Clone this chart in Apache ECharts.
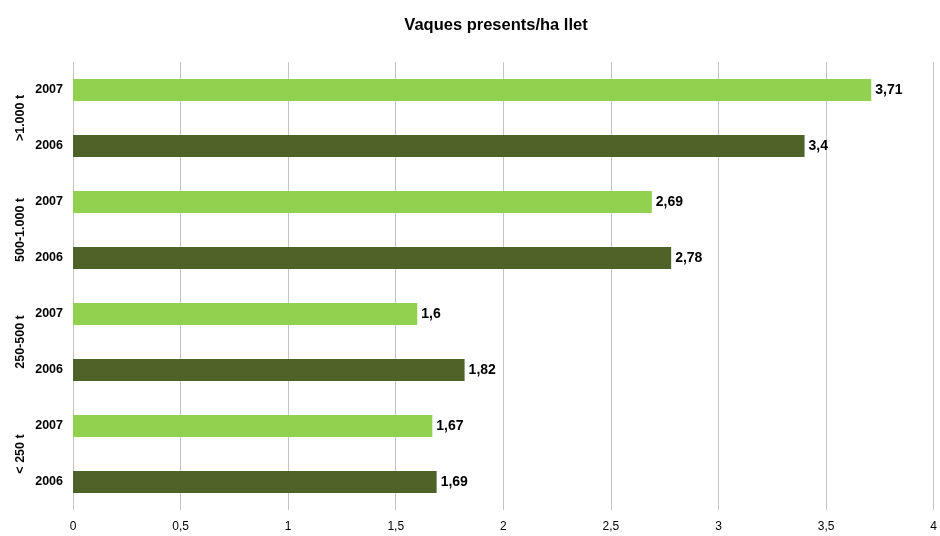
<!DOCTYPE html>
<html><head><meta charset="utf-8">
<script src="https://cdn.jsdelivr.net/npm/echarts@6/dist/echarts.min.js"></script>
<style>html,body{margin:0;padding:0;background:#fff}#c{width:940px;height:536px}</style>
</head><body><div id="c"></div>
<script>
// bottom to top
const years = ['2006','2007','2006','2007','2006','2007','2006','2007'];
const groups = ['< 250 t','250-500 t','500-1.000 t','>1.000 t'];
const values = [1.69, 1.67, 1.82, 1.6, 2.78, 2.69, 3.4, 3.71];
const xTicks = [0, 0.5, 1, 1.5, 2, 2.5, 3, 3.5, 4];
const yearColors = {'2006':'#4F6228','2007':'#92D050'};

const fmt = v => String(v).replace('.', ',');
const chart = echarts.init(document.getElementById('c'));
chart.setOption({
  animation:false,
  title:{text:'Vaques presents/ha llet',left:491,top:12,textAlign:'center',
    textStyle:{fontFamily:'Liberation Sans',fontSize:16.5,fontWeight:'bold',color:'#000'}},
  grid:{left:73,right:5,top:62,bottom:26,containLabel:false},
  xAxis:{type:'value',min:xTicks[0],max:xTicks[xTicks.length-1],interval:0.5,
    axisLine:{show:false},axisTick:{show:false},
    splitLine:{show:true,lineStyle:{color:'#c4c4c4',width:1}},
    axisLabel:{formatter:fmt,fontFamily:'Liberation Sans',fontSize:12,color:'#000',margin:11}},
  yAxis:[
    {type:'category',data:years,axisLine:{show:false},axisTick:{show:false},
     axisLabel:{fontFamily:'Liberation Sans',fontSize:12.5,fontWeight:'bold',color:'#000',margin:10}},
    {type:'category',data:groups,position:'left',axisLine:{show:false},axisTick:{show:false},
     axisLabel:{rotate:90,fontFamily:'Liberation Sans',fontSize:12.5,fontWeight:'bold',color:'#000',margin:46}}
  ],
  series:[{type:'bar',yAxisIndex:0,data:values,barWidth:22,
    itemStyle:{color:p=>yearColors[years[p.dataIndex]]},
    label:{show:true,position:'right',distance:4,formatter:p=>fmt(p.value),
      fontFamily:'Liberation Sans',fontSize:14,fontWeight:'bold',color:'#000'}}]
});
</script></body></html>
